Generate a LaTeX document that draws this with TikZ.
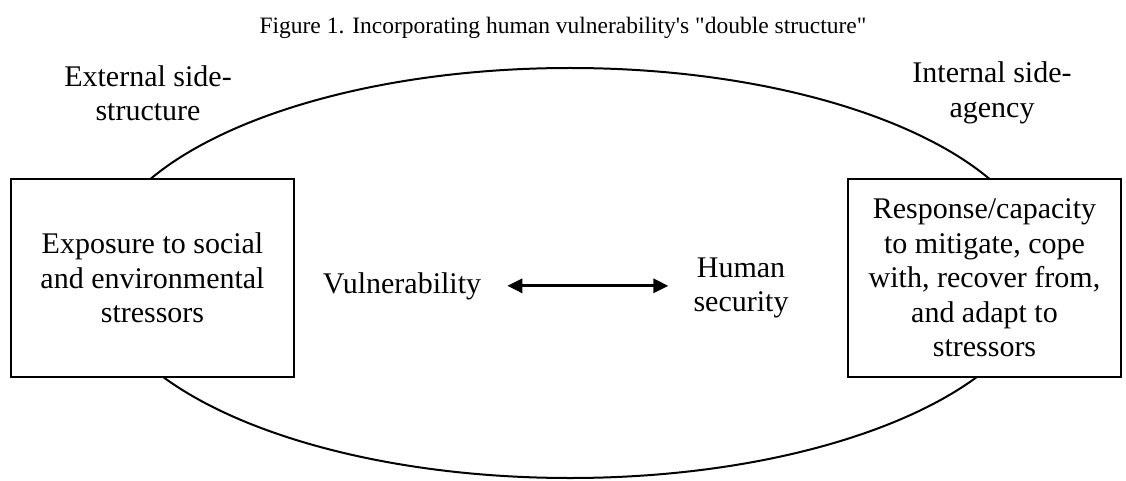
\documentclass[tikz,border=0pt]{standalone}
\usepackage{fontspec}
\setmainfont{Liberation Serif}
\usetikzlibrary{arrows.meta}
\begin{document}
\begin{tikzpicture}[x=1pt,y=-1pt,
  lbl/.style={font=\fontsize{30}{34.5}\selectfont, inner sep=0pt, align=center},
  box/.style={draw, line width=2.2pt, fill=white, font=\fontsize{30}{34.5}\selectfont, align=center, inner sep=0pt},
  dblarrow/.style={line width=3pt, {Triangle[length=15pt,width=14pt]}-{Triangle[length=15pt,width=14pt]}}
]
\useasboundingbox (0,0) rectangle (1126,481);
\node[font=\fontsize{23.5}{28}\selectfont, anchor=base, inner sep=0pt] (title) at (563,34) {Figure 1. Incorporating human vulnerability\textquotesingle s \textquotedbl double structure\textquotedbl};
\draw[line width=2pt] (570,273) ellipse [x radius=472, y radius=205];
\node[box, minimum width=283pt, minimum height=198pt] (expo) at (152.5,278) {Exposure to social\\and environmental\\stressors};
\node[box, minimum width=273pt, minimum height=198pt] (resp) at (984.5,278) {Response/capacity\\to mitigate, cope\\with, recover from,\\and adapt to\\stressors};
\node[lbl] (ext) at (148,93) {External side-\\structure};
\node[lbl] (int) at (992,93) {Internal side-\\agency};
\node[lbl, anchor=base] (vul) at (402,293) {Vulnerability};
\node[lbl] (hum) at (741,288) {Human\\security};
\draw[dblarrow, shorten <=26pt, shorten >=25pt] (vul.east) -- (vul.east -| hum.west);
\end{tikzpicture}
\end{document}
